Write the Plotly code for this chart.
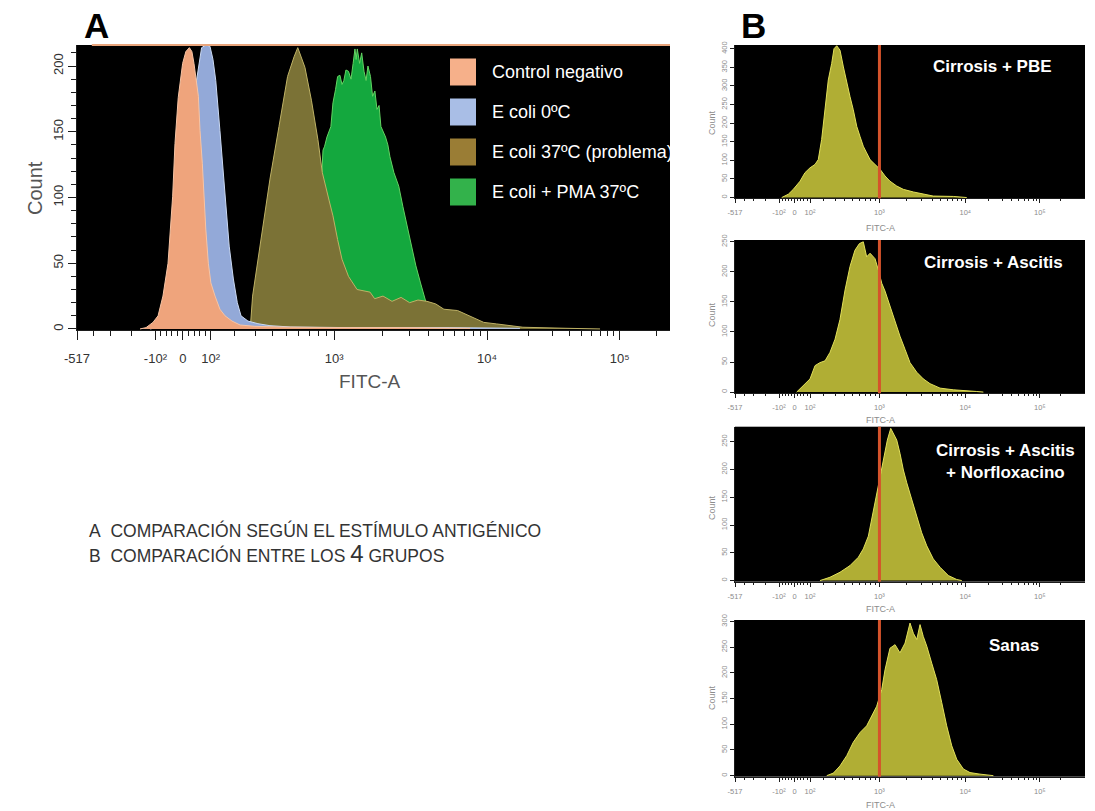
import numpy as np
import plotly.graph_objects as go

# ---------------- FITC-A display scale (biexponential-like) ----------------
FITC_MIN, FITC_MAX = -517.0, 262144.0
N_CHANNELS = 256
BIEX_C, BIEX_M = 300.0, 11.0


def biex(v):
    v = np.asarray(v, dtype=float)
    return np.sign(v) * BIEX_M * np.log1p(np.arcsinh(np.abs(v) / BIEX_C) / BIEX_M)


def to_channel(v):
    lo, hi = biex(FITC_MIN), biex(FITC_MAX)
    return ((biex(v) - lo) / (hi - lo) * N_CHANNELS).tolist()


MAJOR_FITC = [-517, -100, 0, 100, 1000, 10000, 100000]
MAJOR_TEXT = ["-517", "-10²", "0", "10²", "10³", "10⁴", "10⁵"]
MINOR_FITC = ([-400, -300, -200, -80, -60, -40, -20, 20, 40, 60, 80]
              + [200, 300, 400, 500, 600, 700, 800, 900]
              + [2000, 3000, 4000, 5000, 6000, 7000, 8000, 9000]
              + [20000, 30000, 40000, 50000, 60000, 70000, 80000, 90000]
              + [200000])
GATE_FITC = 1000

# ---------------- Panel A: histograms (display channel, count) -------------
ctrl_ch = [27.2, 29.8, 32.8, 35.0, 37.1, 39.3, 41.3, 42.3, 43.7, 45.6, 47.0, 48.5,
           49.6, 50.5, 52.4, 53.1, 54.1, 54.8, 55.6, 56.7, 57.8, 59.6, 61.7, 63.9,
           66.9, 70.4, 76.8, 87.6, 109.2, 139.4, 169.7]
ctrl_n = [0, 1, 5, 10, 25, 50, 101, 141, 176, 202, 211, 214, 211, 202, 177, 151,
          126, 101, 76, 50, 35, 25, 15, 10, 6, 3, 2, 1.5, 1, 1, 0.5]

cold_ch = [31.5, 38.0, 42.3, 46.6, 49.6, 51.6, 53.8, 55.7, 57.4, 58.7, 59.9, 61.7,
           63.9, 65.7, 67.5, 69.2, 70.8, 73.8, 78.1, 83.3, 92.0, 117.9, 161.0, 191.2]
cold_n = [0, 2, 20, 100, 160, 189, 214, 216, 215, 205, 189, 151, 101, 63, 38, 20,
          10, 6, 4, 2.5, 1.5, 1, 1, 0.5]

warm_ch = [73.8, 74.9, 75.8, 78.6, 81.5, 83.3, 87.2, 90.9, 93.7, 95.3, 98.4, 101.2,
           104.0, 105.9, 108.8, 110.5, 112.5, 114.4, 117.2, 120.9, 126.5, 128.5,
           132.1, 136.0, 139.9, 143.6, 147.2, 151.1, 154.9, 158.4, 164.3, 168.0,
           171.8, 175.6, 181.2, 192.5, 211.1, 225.8]
warm_n = [0, 3, 25, 58, 93, 114, 154, 192, 207, 214, 199, 174, 144, 119, 98, 86,
          68, 53, 40, 30, 28, 23, 25, 21, 24, 20, 22, 21, 19, 15, 14, 11, 7.6, 5,
          3.8, 1.3, 0.5, 0]

pma_ch = [102.3, 104.0, 105.3, 106.2, 106.9, 107.9, 109.6, 110.5, 111.6, 112.5,
          113.5, 114.4, 115.2, 116.1, 117.2, 118.3, 119.2, 120.0, 120.5, 121.0,
          122.0, 122.9, 123.9, 124.8, 125.6, 126.7, 127.6, 128.6, 129.5, 130.4,
          131.2, 133.2, 134.2, 135.1, 136.8, 138.9, 140.7, 142.6, 144.5, 146.3,
          148.3, 150.1, 151.5, 153.3]
pma_n = [0, 60, 110, 136, 139, 146, 154, 172, 182, 192, 193, 186, 189, 197, 196,
         190, 202, 213, 205, 213, 202, 210, 196, 189, 200, 192, 177, 181, 167, 170,
         154, 146, 140, 131, 119, 108.6, 93, 78, 60.6, 48, 35, 24, 15, 0]

A_NAMES = ["Control negativo", "E coli 0ºC", "E coli 37ºC (problema)", "E coli + PMA 37ºC"]

# ---------------- Panel B: four groups ----------------
B_NAMES = ["Cirrosis + PBE", "Cirrosis + Ascitis",
           "Cirrosis + Ascitis<br>+ Norfloxacino", "Sanas"]

pbe_ch = [35.9, 41.0, 44.8, 50.0, 53.8, 57.7, 61.5, 64.0, 66.6, 69.2, 71.7, 74.3,
          76.1, 78.2, 80.7, 83.3, 85.9, 88.4, 90.9, 93.6, 96.1, 98.6, 101.2, 103.8,
          107.6, 111.5, 115.3, 119.1, 124.3, 129.4, 137.1, 144.7, 152.4, 167.8, 178.1]
pbe_n = [0, 9, 22, 44, 67, 80, 89, 102, 156, 236, 316, 360, 400, 408, 396, 351,
         307, 271, 236, 191, 164, 138, 120, 102, 89, 76, 58, 44, 31, 22, 15, 9, 4, 3, 0]

asc_ch = [47.4, 52.5, 57.7, 61.5, 65.3, 69.2, 73.0, 76.9, 80.7, 84.6, 88.4, 92.2,
          95.6, 98.6, 101.2, 103.8, 107.6, 110.2, 112.8, 115.3, 119.1, 123.0, 126.8,
          130.7, 134.5, 139.7, 144.7, 149.9, 157.6, 167.8, 178.1, 185.8, 190.9]
asc_n = [0, 11, 22, 44, 49, 52, 66, 88, 121, 170, 209, 236, 247, 250, 225, 231,
         222, 203, 181, 168, 143, 121, 93, 71, 49, 33, 22, 14, 6.6, 3.8, 2.7, 1, 0]

nor_ch = [65.3, 73.0, 80.7, 88.4, 94.8, 98.6, 102.5, 105.1, 107.6, 111.5, 114.5,
          117.1, 119.7, 121.7, 124.3, 126.8, 129.4, 132.0, 135.8, 139.7, 143.5,
          147.4, 152.4, 157.6, 164.0, 170.4, 174.3]
nor_n = [0, 6, 15, 27, 42, 57, 80, 110, 140, 182, 223, 253, 274, 265, 253, 229,
         199, 176, 146, 116, 86, 62.5, 39, 24, 9, 2, 0]

san_ch = [70.5, 75.6, 80.7, 85.9, 90.9, 96.1, 101.2, 105.1, 108.9, 112.8, 115.3,
          119.1, 123.0, 126.8, 130.7, 134.5, 137.1, 139.7, 142.2, 144.7, 147.4,
          151.2, 155.0, 158.9, 162.7, 166.6, 170.4, 175.5, 180.6, 188.3, 198.6]
san_n = [0, 5, 19, 39, 65, 84, 97, 116, 135, 168, 206, 248, 255, 239, 258, 297,
         277, 265, 294, 271, 252, 219, 187, 142, 97, 58, 32, 13, 6, 3, 0]

B_YMAX = [410, 253, 277, 303]
B_YTICKS = [[0, 50, 100, 150, 200, 250, 300, 350, 400],
            [0, 50, 100, 150, 200, 250],
            [0, 50, 100, 150, 200, 250],
            [0, 50, 100, 150, 200, 250, 300]]

# ---------------- styles ----------------
FONT = "Liberation Sans, Arial, Helvetica, DejaVu Sans, sans-serif"
W, H = 1095, 811


def px(x):
    return x / W


def py(y):
    return 1 - y / H


A_FILL = ["#EFA47C", "#93A9D8", "#7B7236", "#14A83E"]
A_LINE = ["#F7C4A4", "#CBD9F3", "#BFB266", "#63D362"]
A_KEY = ["#F6B08A", "#A9BEE6", "#9A7D35", "#33B24B"]
B_FILL = "#B0AE34"
B_LINE = "#E2E05A"
AXIS_COL = "#1c1c1c"

fig = go.Figure()

# Panel A traces (drawn back to front)
a_series = [(ctrl_ch, ctrl_n), (cold_ch, cold_n), (warm_ch, warm_n), (pma_ch, pma_n)]
for i in [3, 2, 1, 0]:
    ch, n = a_series[i]
    fig.add_trace(go.Scatter(
        x=ch, y=n, mode="lines", fill="tozeroy", name=A_NAMES[i],
        line=dict(color=A_LINE[i], width=1), fillcolor=A_FILL[i],
        xaxis="x", yaxis="y", showlegend=False, hoverinfo="skip"))

# Panel B traces
b_series = [(pbe_ch, pbe_n), (asc_ch, asc_n), (nor_ch, nor_n), (san_ch, san_n)]
for i, (ch, n) in enumerate(b_series):
    k = i + 2
    fig.add_trace(go.Scatter(
        x=ch, y=n, mode="lines", fill="tozeroy", name=B_NAMES[i].replace("<br>", " "),
        line=dict(color=B_LINE, width=1), fillcolor=B_FILL,
        xaxis=f"x{k}", yaxis=f"y{k}", showlegend=False, hoverinfo="skip"))


def x_axis(domain, anchor, rng, fsize, fcolor, tlen, mlen, standoff):
    return dict(
        domain=domain, anchor=anchor, range=rng, showgrid=False, zeroline=False,
        automargin=False,
        showline=True, linecolor=AXIS_COL, linewidth=1, ticks="outside",
        ticklen=tlen, tickwidth=1, tickcolor=AXIS_COL, tickmode="array",
        tickvals=to_channel(MAJOR_FITC), ticktext=MAJOR_TEXT,
        tickfont=dict(family=FONT, size=fsize, color=fcolor),
        ticklabelstandoff=standoff, fixedrange=True,
        minor=dict(tickmode="array", tickvals=to_channel(MINOR_FITC), ticks="outside",
                   ticklen=mlen, tickwidth=1, tickcolor=AXIS_COL, showgrid=False))


def y_axis(domain, anchor, rng, tickvals, fsize, fcolor, tlen, minor_vals, mlen):
    d = dict(
        domain=domain, anchor=anchor, range=rng, showgrid=False, zeroline=False,
        automargin=False,
        showline=True, linecolor=AXIS_COL, linewidth=1, ticks="outside",
        ticklen=tlen, tickwidth=1, tickcolor=AXIS_COL, tickmode="array",
        tickvals=tickvals, ticktext=[str(t) for t in tickvals], tickangle=-90,
        tickfont=dict(family=FONT, size=fsize, color=fcolor), fixedrange=True)
    if minor_vals:
        d["minor"] = dict(tickmode="array", tickvals=minor_vals, ticks="outside",
                          ticklen=mlen, tickwidth=1, tickcolor=AXIS_COL, showgrid=False)
    return d


A_YTICKS = [0, 50, 100, 150, 200]
A_YMINOR = [v for v in range(10, 220, 10) if v % 50 != 0]

layout = dict(
    width=W, height=H, autosize=False,
    margin=dict(l=0, r=0, t=0, b=0, pad=0, autoexpand=False),
    paper_bgcolor="white", plot_bgcolor="black", showlegend=False,
    font=dict(family=FONT),
)
layout["xaxis"] = x_axis([px(77), px(670)], "y", [0, 256], 13, "#333333", 9, 5, 7)
layout["yaxis"] = y_axis([py(330), py(45)], "x", [-0.8, 216], A_YTICKS, 13, "#333333", 8,
                         A_YMINOR, 5)

B_TOPS = [45, 240, 426.7, 620]
B_BOTS = [198.3, 393.3, 581.7, 776.7]
for i in range(4):
    k = i + 2
    layout[f"xaxis{k}"] = x_axis([px(735), px(1085)], f"y{k}", [0, 269], 7.5, "#8c8c8c", 4, 2, 3)
    layout[f"yaxis{k}"] = y_axis([py(B_BOTS[i]), py(B_TOPS[i])], f"x{k}", [-2, B_YMAX[i]],
                                 B_YTICKS[i], 7.5, "#8c8c8c", 4, None, 0)

shapes = []
# orange top border of panel A
shapes.append(dict(type="line", xref="x domain", yref="y domain", x0=0.025, x1=1, y0=1, y1=1,
                   line=dict(color="#E9A57C", width=2), layer="above"))
# gate lines in B
gate = to_channel([GATE_FITC])[0]
for i in range(4):
    k = i + 2
    shapes.append(dict(type="line", xref=f"x{k}", yref=f"y{k} domain", x0=gate, x1=gate,
                       y0=0, y1=1, line=dict(color="#D5532B", width=3), layer="above"))
# legend keys in A
KEY_Y = [72, 112, 152, 192]
for i in range(4):
    shapes.append(dict(type="rect", xref="paper", yref="paper",
                       x0=px(450), x1=px(476), y0=py(KEY_Y[i] + 13.5), y1=py(KEY_Y[i] - 13.5),
                       fillcolor=A_KEY[i], line=dict(width=0), layer="above"))
layout["shapes"] = shapes

ann = []
for i in range(4):
    ann.append(dict(text=A_NAMES[i], xref="paper", yref="paper", x=px(490), y=py(KEY_Y[i]),
                    xanchor="left", yanchor="middle", showarrow=False,
                    font=dict(family=FONT, size=18, color="white")))
# panel letters
ann.append(dict(text="<b>A</b>", xref="paper", yref="paper", x=px(82), y=py(26),
                xanchor="left", yanchor="middle", showarrow=False,
                font=dict(family=FONT, size=35, color="black")))
ann.append(dict(text="<b>B</b>", xref="paper", yref="paper", x=px(739), y=py(26),
                xanchor="left", yanchor="middle", showarrow=False,
                font=dict(family=FONT, size=35, color="black")))
# axis titles panel A
ann.append(dict(text="Count", xref="paper", yref="paper", x=px(35), y=py(188),
                xanchor="center", yanchor="middle", textangle=-90, showarrow=False,
                font=dict(family=FONT, size=20, color="#555555")))
ann.append(dict(text="FITC-A", xref="paper", yref="paper", x=px(370), y=py(381),
                xanchor="center", yanchor="middle", showarrow=False,
                font=dict(family=FONT, size=19, color="#555555")))
# axis titles panel B
B_COUNT_Y = [123, 315, 508, 698]
B_FITC_Y = [228, 420, 609, 805]
for i in range(4):
    ann.append(dict(text="Count", xref="paper", yref="paper", x=px(712), y=py(B_COUNT_Y[i]),
                    xanchor="center", yanchor="middle", textangle=-90, showarrow=False,
                    font=dict(family=FONT, size=9, color="#8c8c8c")))
    ann.append(dict(text="FITC-A", xref="paper", yref="paper", x=px(880), y=py(B_FITC_Y[i]),
                    xanchor="center", yanchor="middle", showarrow=False,
                    font=dict(family=FONT, size=9, color="#8c8c8c")))
# group labels in B
B_LABEL_POS = [(992, 67), (993, 262), (1005, 461), (1014, 645)]
for i in range(4):
    ann.append(dict(text=f"<b>{B_NAMES[i]}</b>", xref="paper", yref="paper",
                    x=px(B_LABEL_POS[i][0]), y=py(B_LABEL_POS[i][1]),
                    xanchor="center", yanchor="middle", align="center", showarrow=False,
                    font=dict(family=FONT, size=17, color="white")))
# caption lines
NB = "\u00a0"
ann.append(dict(text=f"A{NB}{NB}COMPARACIÓN SEGÚN EL ESTÍMULO ANTIGÉNICO",
                xref="paper", yref="paper", x=px(87), y=py(530), xanchor="left",
                yanchor="middle", showarrow=False,
                font=dict(family=FONT, size=17.5, color="#333333")))
ann.append(dict(text=f"B{NB}{NB}COMPARACIÓN ENTRE LOS <span style='font-size:24px'>4</span> GRUPOS",
                xref="paper", yref="paper", x=px(87), y=py(553), xanchor="left",
                yanchor="middle", showarrow=False,
                font=dict(family=FONT, size=17.5, color="#333333")))
layout["annotations"] = ann

fig.update_layout(**layout)
fig.write_html("out.html")
